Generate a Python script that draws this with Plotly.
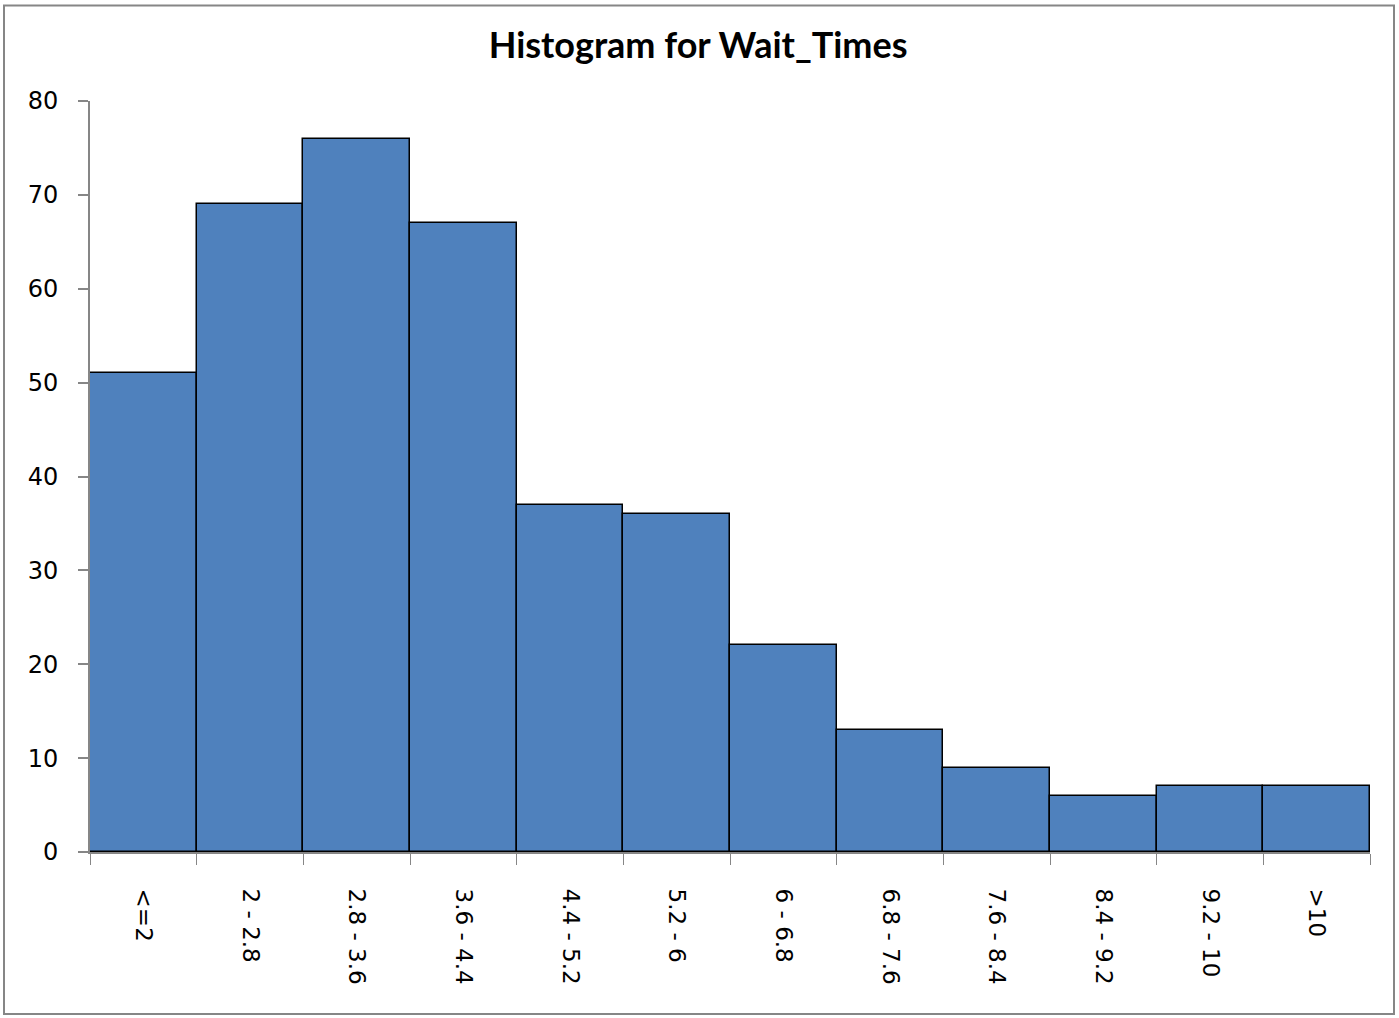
import plotly.graph_objects as go

categories = ["<=2", "2 - 2.8", "2.8 - 3.6", "3.6 - 4.4", "4.4 - 5.2", "5.2 - 6",
              "6 - 6.8", "6.8 - 7.6", "7.6 - 8.4", "8.4 - 9.2", "9.2 - 10", ">10"]
counts = [51, 69, 76, 67, 37, 36, 22, 13, 9, 6, 7, 7]
y_ticks = [0, 10, 20, 30, 40, 50, 60, 70, 80]

W, H = 1399, 1018
L, R, T, B = 90, 29, 101, 166
pw, ph = W - L - R, H - T - B

def px_x(x):
    return (x - L) / pw

def px_y(y):
    return (H - B - y) / ph

fig = go.Figure(go.Bar(
    x=categories, y=counts,
    marker=dict(color="#4F81BD", line=dict(color="black", width=1.5)),
    width=1.0,
))

fig.update_layout(
    width=W, height=H,
    margin=dict(l=L, r=R, t=T, b=B),
    paper_bgcolor="white", plot_bgcolor="white",
    bargap=0,
    showlegend=False,
    title=dict(text="<b>Histogram for Wait_Times</b>", x=0.499, xref="container",
               y=1 - 45 / H, yref="container", yanchor="middle", xanchor="center",
               font=dict(family="Lato, Open Sans, sans-serif", size=36, color="black")),
    font=dict(family="DejaVu Sans", color="black"),
    shapes=[dict(type="rect", xref="paper", yref="paper",
                 x0=px_x(4), x1=px_x(1394), y0=px_y(1014), y1=px_y(5.5),
                 line=dict(color="#868686", width=2), fillcolor="rgba(0,0,0,0)", layer="below")],
)

fig.update_xaxes(
    type="category", tickangle=90, tickson="boundaries",
    ticks="outside", ticklen=11, tickcolor="#868686", tickwidth=1,
    showline=True, linecolor="#868686", linewidth=2,
    showgrid=False, zeroline=False,
    tickfont=dict(family="DejaVu Sans", size=23, color="black"),
    ticklabelstandoff=30,
)
fig.update_yaxes(
    range=[0, 80], tickvals=y_ticks,
    ticks="outside", ticklen=10, tickcolor="#868686", tickwidth=2,
    showline=True, linecolor="#868686", linewidth=2,
    showgrid=False, zeroline=False,
    tickfont=dict(family="DejaVu Sans", size=24, color="black"),
    ticklabelstandoff=15,
)

fig.write_html("out.html", config={"displayModeBar": False},
               post_script="document.body.style.margin='0';")
